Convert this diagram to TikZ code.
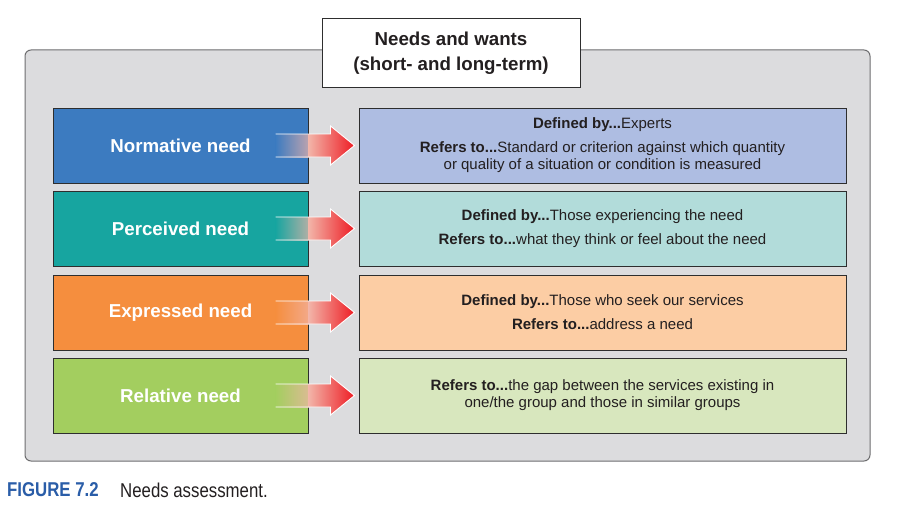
\documentclass[tikz,border=0pt]{standalone}
\usepackage{fontspec}
\setmainfont{Liberation Sans}
\newfontfamily\narrowfont[FakeStretch=0.84]{Liberation Sans}
\definecolor{panelgray}{HTML}{DCDCDE}
\definecolor{edgegray}{HTML}{6E6E70}
\definecolor{boxedge}{HTML}{2E2E2E}
\definecolor{nblue}{HTML}{3C7BC0}
\definecolor{nteal}{HTML}{17A5A0}
\definecolor{norange}{HTML}{F58E3E}
\definecolor{ngreen}{HTML}{A3CE5F}
\definecolor{lblue}{HTML}{AEBDE2}
\definecolor{lteal}{HTML}{B2DCDA}
\definecolor{lorange}{HTML}{FCCDA4}
\definecolor{lgreen}{HTML}{D8E7BE}
\definecolor{arrred}{HTML}{EE1C24}
\definecolor{arrpink}{HTML}{F2B4A8}
\definecolor{capblue}{HTML}{2A5DA8}
\definecolor{txt}{HTML}{231F20}
\tikzset{
  needbox/.style={draw=boxedge, line width=1pt, minimum width=255pt, minimum height=75pt, text=white, font=\fontsize{18.7}{22}\selectfont\bfseries},
  descbox/.style={draw=boxedge, line width=1pt, minimum width=487pt, minimum height=75pt, text=txt, align=center, font=\fontsize{15}{17}\selectfont},
}
% #1 = source node, #2 = its fill colour
\newcommand{\needarrow}[2]{%
  \shade[left color=#2, right color=arrpink!70!#2]
    ([xshift=-33pt,yshift=11.5pt]#1.east) rectangle ([yshift=-11.5pt]#1.east);
  \shade[left color=arrpink, right color=arrred]
    ([yshift=11.5pt]#1.east) -- ([xshift=22pt,yshift=11.5pt]#1.east) -- ([xshift=22pt,yshift=19.5pt]#1.east)
    -- ([xshift=46pt]#1.east) -- ([xshift=22pt,yshift=-19.5pt]#1.east) -- ([xshift=22pt,yshift=-11.5pt]#1.east)
    -- ([yshift=-11.5pt]#1.east) -- cycle;
  \draw[white, line width=0.9pt, line join=miter]
    ([xshift=-33pt,yshift=11.5pt]#1.east) -- ([xshift=22pt,yshift=11.5pt]#1.east) -- ([xshift=22pt,yshift=19.5pt]#1.east)
    -- ([xshift=46pt]#1.east) -- ([xshift=22pt,yshift=-19.5pt]#1.east) -- ([xshift=22pt,yshift=-11.5pt]#1.east)
    -- ([xshift=-33pt,yshift=-11.5pt]#1.east);
}
\begin{document}
\begin{tikzpicture}[x=1pt,y=-1pt]
\useasboundingbox (0,0) rectangle (900,511);
\fill[white] (0,0) rectangle (900,511);
% panel
\draw[fill=panelgray, draw=edgegray, line width=1pt, rounded corners=6pt] (25,50) rectangle (870,461);
% title
\node[draw=boxedge, fill=white, line width=1pt, minimum width=258pt, minimum height=69pt, align=center, text=txt,
  font=\fontsize{18.7}{25}\selectfont\bfseries] (title) at (451,53.5) {Needs and wants\\(short- and long-term)};
% rows
\node[needbox, fill=nblue] (n1) at (180.5,145.5) {Normative need};
\node[needbox, fill=nteal] (n2) at (180.5,228.5) {Perceived need};
\node[needbox, fill=norange] (n3) at (180.5,312.5) {Expressed need};
\node[needbox, fill=ngreen] (n4) at (180.5,395.5) {Relative need};
\node[descbox, fill=lblue] (d1) at (602.5,145.5) {\textbf{Defined by...}Experts\\[7pt]\textbf{Refers to...}Standard or criterion against which quantity\\or quality of a situation or condition is measured};
\node[descbox, fill=lteal] (d2) at (602.5,228.5) {\textbf{Defined by...}Those experiencing the need\\[7pt]\textbf{Refers to...}what they think or feel about the need};
\node[descbox, fill=lorange] (d3) at (602.5,312.5) {\textbf{Defined by...}Those who seek our services\\[7pt]\textbf{Refers to...}address a need};
\node[descbox, fill=lgreen] (d4) at (602.5,395.5) {\textbf{Refers to...}the gap between the services existing in\\one/the group and those in similar groups};
\needarrow{n1}{nblue}
\needarrow{n2}{nteal}
\needarrow{n3}{norange}
\needarrow{n4}{ngreen}
% caption
\node[anchor=west, inner sep=0pt, text=capblue, font=\narrowfont\fontsize{20}{24}\selectfont\bfseries] (fig) at (7,490) {FIGURE 7.2};
\node[anchor=west, inner sep=0pt, text=txt, font=\narrowfont\fontsize{20}{24}\selectfont] (cap) at (120,490) {Needs assessment.};
\end{tikzpicture}
\end{document}
